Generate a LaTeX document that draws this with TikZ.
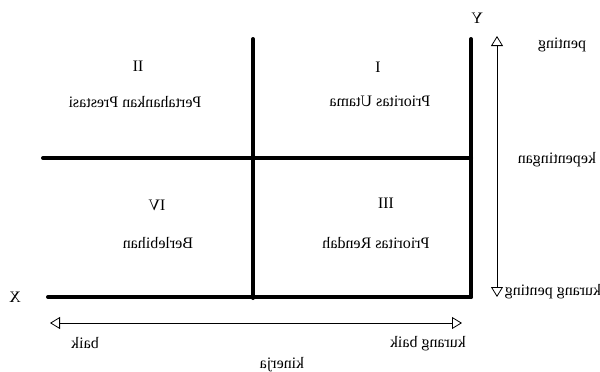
\documentclass[tikz,border=0pt]{standalone}
\usepackage{fontspec}
\setmainfont{Liberation Serif}
\usepackage{graphicx}
\usetikzlibrary{arrows.meta}
\tikzset{
  axis/.style={line width=4pt, line cap=round},
  scaleline/.style={line width=0.8pt, {Triangle[open,length=10pt,width=12pt]}-{Triangle[open,length=10pt,width=12pt]}},
  lbl/.style={inner sep=0pt, font=\fontsize{16}{18}\selectfont},
}
\newcommand{\mir}[1]{\reflectbox{#1}}
\begin{document}
\begin{tikzpicture}[x=1pt,y=-1pt]
\useasboundingbox (0,0) rectangle (600,372);
% grid corners
\coordinate (vt1) at (253,39);
\coordinate (vb1) at (253,298);
\coordinate (vt2) at (471,39);
\coordinate (vb2) at (471,297);
\coordinate (hl) at (43,158);
\coordinate (hr) at (471,158);
\coordinate (bl) at (48,297);
\draw[axis] (vt1) -- (vb1);
\draw[axis] (vt2) -- (vb2);
\draw[axis] (hl) -- (hr);
\draw[axis] (bl) -- (vb2);
% scale arrows
\coordinate (at) at (497,36);
\coordinate (ab) at (497,297);
\draw[scaleline] (ab) -- (at);
\coordinate (al) at (50,323);
\coordinate (ar) at (462,323);
\draw[scaleline] (al) -- (ar);
% labels
\node[lbl] (Y) at (477,18) {\mir{Y}};
\node[lbl] (X) at (15,297) {\mir{X}};
\node[lbl] (pent) at (562,45) {\mir{penting}};
\node[lbl] (kep) at (557,160) {\mir{kepentingan}};
\node[lbl] (kpent) at (553,292) {\mir{kurang penting}};
\node[lbl] (baik) at (85,343) {\mir{baik}};
\node[lbl] (kbaik) at (428,344) {\mir{kurang baik}};
\node[lbl] (kin) at (282,365) {\mir{kinerja}};
\node[lbl] (q2) at (138,66) {\mir{II}};
\node[lbl] (q2t) at (135,102) {\mir{Pertahankan Prestasi}};
\node[lbl] (q1) at (378,67) {\mir{I}};
\node[lbl] (q1t) at (380,101) {\mir{Prioritas Utama}};
\node[lbl] (q4) at (157,205) {\mir{IV}};
\node[lbl] (q4t) at (158,243) {\mir{Berlebihan}};
\node[lbl] (q3) at (386,203) {\mir{III}};
\node[lbl] (q3t) at (376,243) {\mir{Prioritas Rendah}};
\end{tikzpicture}
\end{document}
